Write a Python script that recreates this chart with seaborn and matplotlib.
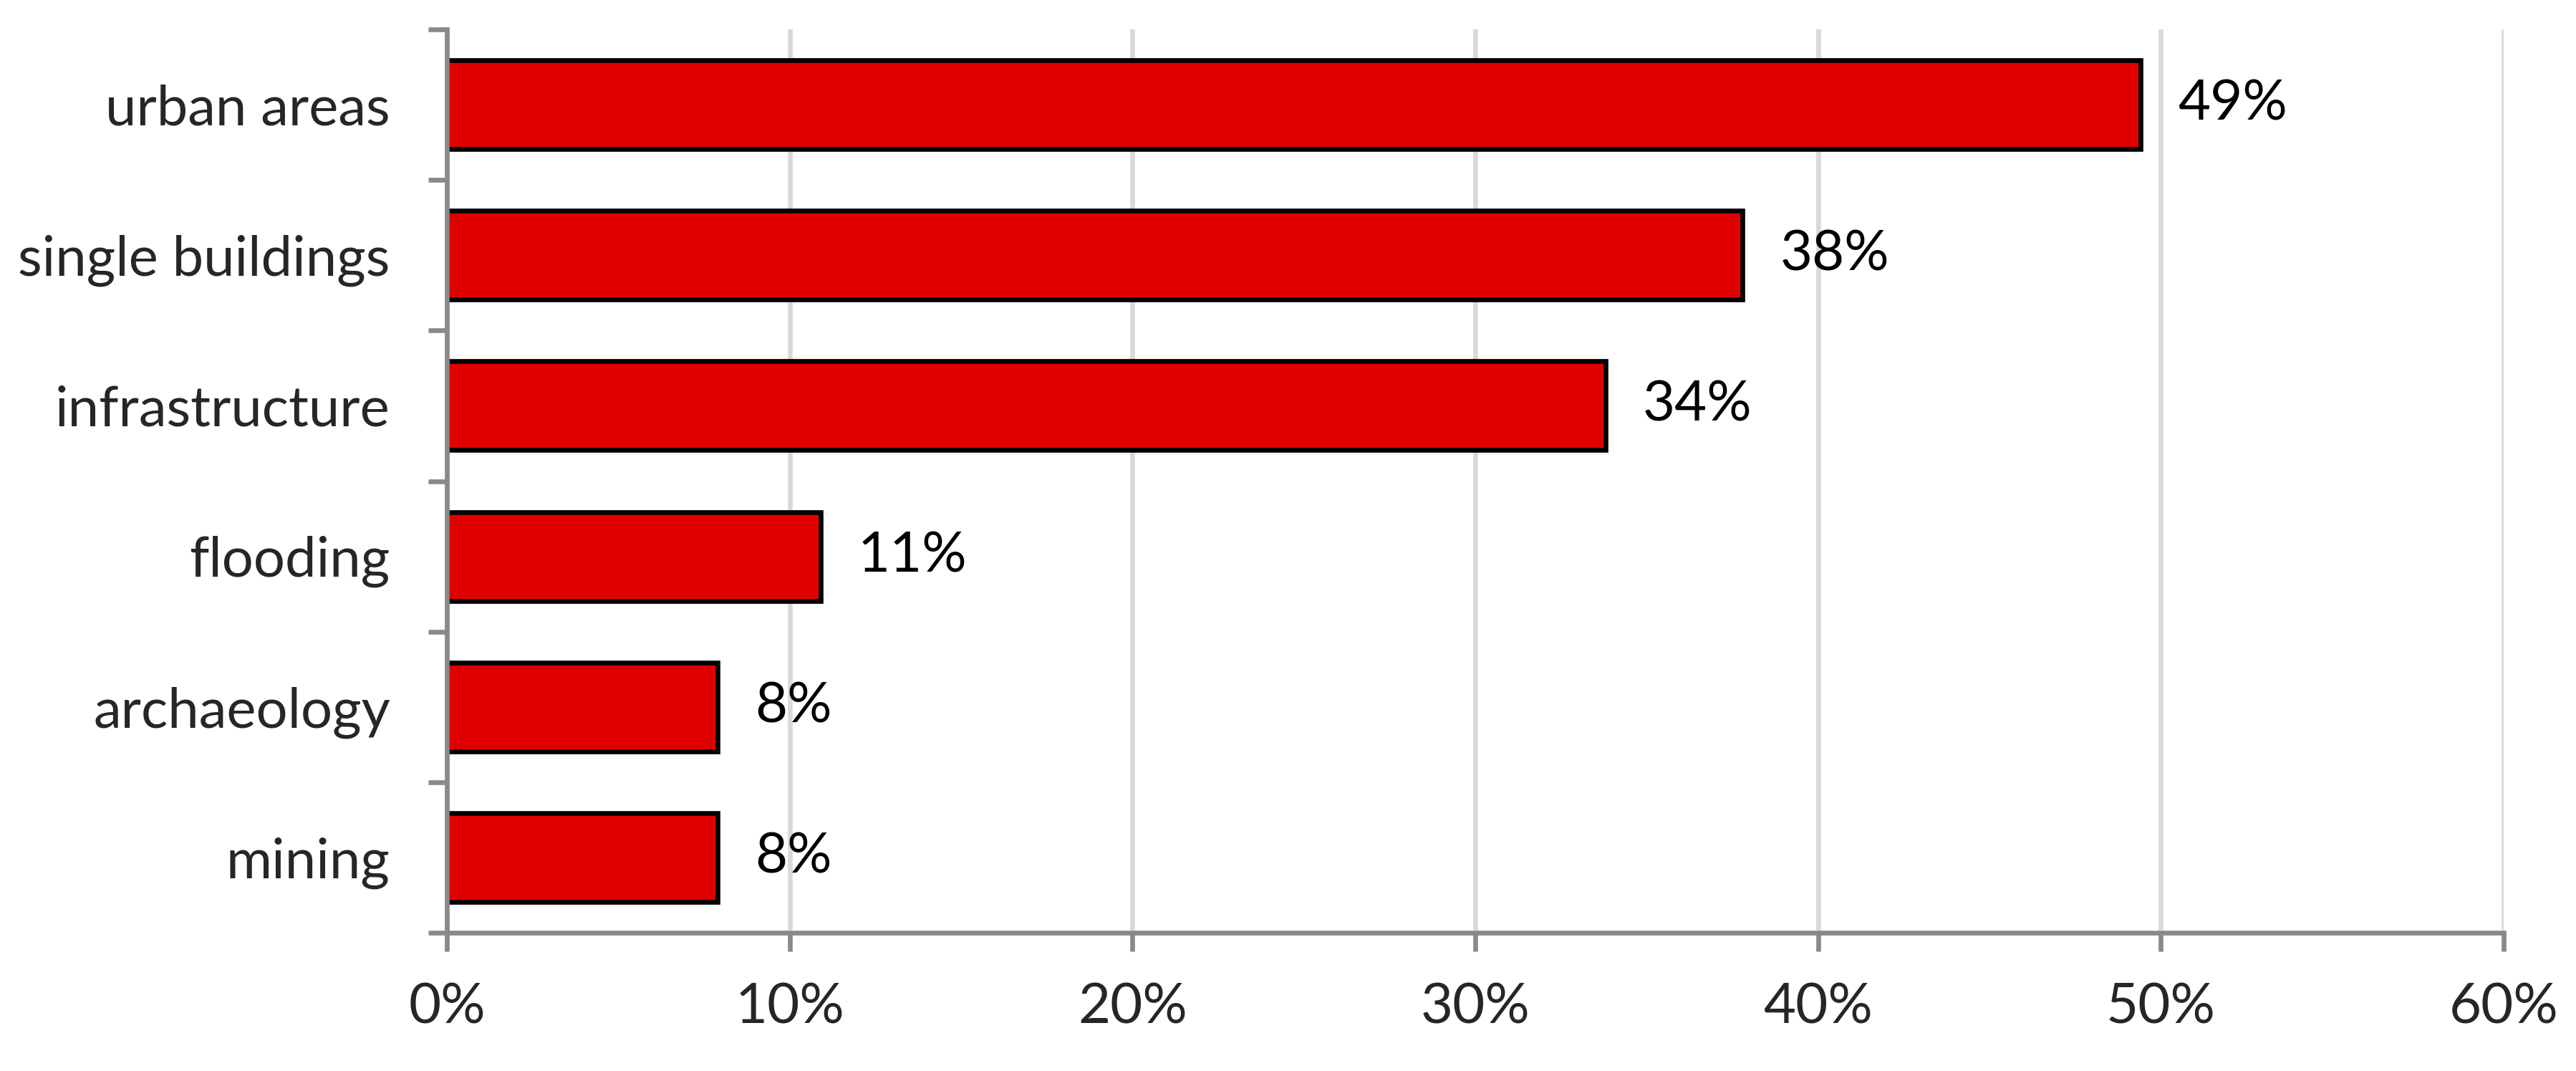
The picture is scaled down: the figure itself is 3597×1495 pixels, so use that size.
import numpy as np
import matplotlib
matplotlib.use("Agg")
import matplotlib.pyplot as plt
import seaborn as sns

# data (share of studies, in %)
categories = ["urban areas", "single buildings", "infrastructure", "flooding", "archaeology", "mining"]
shares = [49.4, 37.8, 33.8, 10.9, 7.9, 7.9]
x_ticks = [0, 10, 20, 30, 40, 50, 60]
x_tick_labels = [f"{t}%" for t in x_ticks]
value_labels = [f"{v:.0f}%" for v in shares]

bar_red = "#E00000"
axis_grey = "#898989"
grid_grey = "#D9D9D9"
font_size = 18.7

sns.set_style("white")
plt.rcParams["font.family"] = ["Lato", "DejaVu Sans"]

fig, ax = plt.subplots(figsize=(3597 / 300, 1495 / 300), dpi=300)
fig.subplots_adjust(left=624 / 3597, right=3496 / 3597, top=1 - 41 / 1495, bottom=1 - 1302 / 1495)

sns.barplot(x=shares, y=categories, orient="h", color=bar_red, saturation=1,
            edgecolor="black", linewidth=1.6, width=0.59, ax=ax)

# value labels right of the bars
ax.bar_label(ax.containers[0], labels=value_labels, padding=12.5, fontsize=font_size, color="black")

# x axis: 0-60 % with light vertical grid
ax.set_xlim(0, 60)
ax.set_xticks(x_ticks)
ax.set_xticklabels(x_tick_labels, fontsize=font_size)
ax.xaxis.grid(True, color=grid_grey, linewidth=1.6)
ax.set_axisbelow(True)
ax.tick_params(axis="x", direction="out", length=6.2, width=1.6, color=axis_grey, pad=10.5, bottom=True)

# y axis: labels at bar centres, tick marks between categories (Excel style)
ax.set_ylim(5.5, -0.5)
ax.set_yticks(np.arange(-0.5, 6, 1), minor=True)
ax.tick_params(axis="y", which="major", length=0, pad=19, labelsize=font_size, left=True)
ax.tick_params(axis="y", which="minor", direction="out", length=6.2, width=1.6, color=axis_grey, left=True)

ax.set_xlabel("")
ax.set_ylabel("")
for side in ["top", "right"]:
    ax.spines[side].set_visible(False)
for side in ["left", "bottom"]:
    ax.spines[side].set_color(axis_grey)
    ax.spines[side].set_linewidth(1.6)

fig.savefig("out.png", dpi=300)
